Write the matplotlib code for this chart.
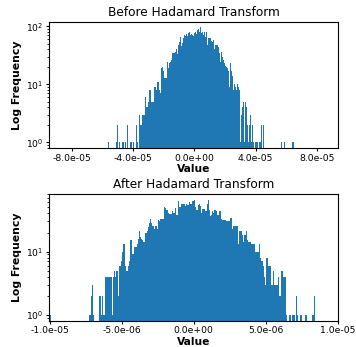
import numpy as np
import matplotlib
matplotlib.use("Agg")
import matplotlib.pyplot as plt
from matplotlib.ticker import FormatStrFormatter

# ---- data: histogram counts ----
before_range = (-5.673e-5, 6.549e-5)
before_counts = [
    1, 0, 0, 0, 0, 0, 0, 0, 1, 2, 0, 1, 0, 0, 1, 1, 0, 1, 0, 2,
    0, 0, 1, 1, 0, 1, 0, 0, 2, 1, 0, 3, 2, 2, 3, 3, 3, 6, 4, 4,
    5, 8, 8, 5, 5, 5, 9, 9, 8, 11, 11, 8, 7, 19, 20, 17, 13, 13, 13, 24,
    19, 23, 24, 26, 34, 35, 34, 36, 40, 33, 47, 54, 66, 45, 51, 62, 70, 69, 72, 68,
    75, 80, 70, 72, 70, 69, 75, 80, 72, 86, 88, 80, 95, 75, 80, 70, 80, 66, 78, 48,
    62, 62, 62, 56, 54, 58, 41, 47, 48, 47, 44, 34, 24, 36, 29, 26, 23, 21, 20, 19,
    17, 9, 23, 17, 14, 8, 10, 9, 8, 10, 9, 8, 1, 3, 4, 5, 1, 5, 4, 2,
    1, 2, 3, 1, 2, 1, 0, 1, 1, 1, 0, 1, 1, 2, 0, 2,
    0, 0, 0, 0, 0, 0, 0, 0, 0, 0, 0, 0, 0, 0, 0, 0, 0,
    1, 0, 0, 1, 0, 0, 0, 0, 0, 0, 0, 1, 1, 0,
]

after_range = (-1.0e-5, 8.42e-6)
after_counts = [
    1,
    0, 0, 0, 0, 0, 0, 0, 0, 0, 0, 0, 0, 0, 0, 0, 0, 0, 0, 0,
    0, 0, 0, 0, 0, 0, 0, 0, 0, 0, 0, 0, 0, 0, 0, 0, 0, 0, 0,
    1, 1, 2, 3, 1, 0, 0, 0, 0, 0, 2, 2, 1, 2, 1, 1,
    4, 4, 4, 4, 4, 4, 4, 1, 4, 5, 4, 5, 5, 2, 6, 6, 7, 10, 13, 13,
    6, 5, 5, 6, 7, 15, 15, 9, 9, 12, 12, 12, 13, 16, 21, 17, 16, 15, 14, 14,
    20, 20, 21, 24, 28, 33, 28, 25, 25, 23, 25, 25, 23, 28, 31, 30, 33, 33, 33, 33,
    51, 48, 45, 45, 41, 39, 39, 39, 43, 41, 41, 48, 38, 38, 62, 50, 50, 57, 57, 57,
    57, 53, 57, 55, 55, 60, 56, 57, 62, 64, 66, 51, 45, 45, 55, 57, 53, 40, 47, 47,
    47, 44, 43, 57, 66, 45, 37, 38, 44, 41, 45, 45, 43, 38, 38, 43, 43, 33, 31, 32,
    31, 31, 30, 30, 30, 30, 34, 34, 23, 25, 25, 25, 25, 25, 13, 21, 21, 21, 18, 14,
    18, 18, 21, 15, 14, 14, 14, 13, 13, 13, 13, 10, 10, 10, 10, 13, 8, 7, 7, 6,
    4, 3, 8, 8, 6, 6, 6, 3, 3, 5, 3, 3, 3, 3, 4, 2, 2, 5, 5, 4,
    4, 4, 1, 0, 0, 1, 1, 0, 1, 1, 1, 0, 2, 1, 0, 0, 1, 1, 0, 0,
    0, 1, 1, 0, 0, 0, 0, 0, 1, 1, 2,
]

before_ticks = [-8e-5, -4e-5, 0.0, 4e-5, 8e-5]
after_ticks = [-1e-5, -5e-6, 0.0, 5e-6, 1e-5]

titles = ["Before Hadamard Transform", "After Hadamard Transform"]
xlabel = "Value"
ylabel = "Log Frequency"

fig = plt.figure(figsize=(3.56, 3.47), dpi=100)
ax1 = fig.add_axes([0.1385, 0.5735, 0.8118, 0.3631])
ax2 = fig.add_axes([0.1385, 0.0758, 0.8118, 0.3650])

specs = [
    (ax1, before_range, before_counts, before_ticks, (-9.48e-5, 9.41e-5), (0.80, 118)),
    (ax2, after_range, after_counts, after_ticks, (-1.0035e-5, 1.0035e-5), (0.81, 81)),
]

for (ax, rng, counts, ticks, xlim, ylim), title in zip(specs, titles):
    counts = np.asarray(counts, dtype=float)
    edges = np.linspace(rng[0], rng[1], len(counts) + 1)
    ax.hist(edges[:-1], bins=edges, weights=counts, color="#1f77b4", log=True)
    ax.set_xlim(*xlim)
    ax.set_ylim(*ylim)
    ax.set_xticks(ticks)
    ax.xaxis.set_major_formatter(FormatStrFormatter("%.1e"))
    ax.set_title(title, fontsize=8.7, pad=4)
    ax.set_xlabel(xlabel, fontsize=7.7, fontweight="bold", labelpad=1)
    ax.set_ylabel(ylabel, fontsize=7.8, fontweight="bold", labelpad=3)
    ax.tick_params(axis="both", labelsize=6.7, length=2.5, pad=1.5)
    ax.tick_params(axis="y", which="minor", length=1.5)

fig.savefig("out.png", dpi=100)
